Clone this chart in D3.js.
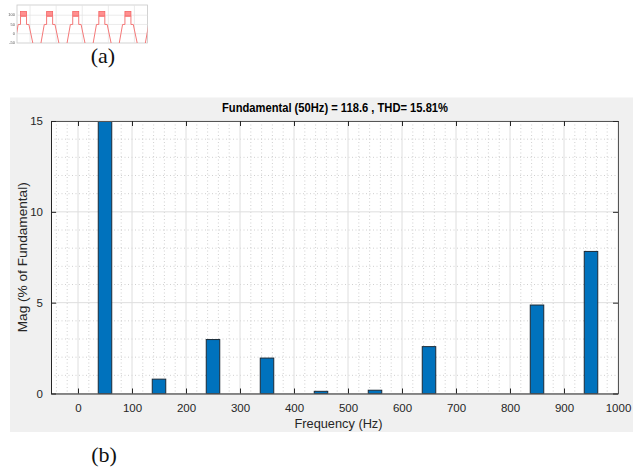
<!DOCTYPE html>
<html>
<head>
<meta charset="utf-8">
<script src="https://cdn.jsdelivr.net/npm/d3@7"></script>
<style>
  body { margin: 0; background: #fff; }
  svg { display: block; }
</style>
</head>
<body>
<svg id="chart" width="633" height="467"></svg>
<script>
// ---- Harmonic spectrum (b) ----
const harmonicFreqs = [50, 150, 250, 350, 450, 550, 650, 750, 850, 950];
const harmonicMags  = [100, 0.79, 2.97, 1.95, 0.12, 0.18, 2.58, 0, 4.87, 7.82];
const binSpacingHz = 50;          // harmonic bins every 50 Hz
const freqTicks = [0, 100, 200, 300, 400, 500, 600, 700, 800, 900, 1000];
const magTicks  = [0, 5, 10, 15];
const freqDomain = [-50, 1000];
const magDomain  = [0, 15];
const spectrumTitle = "Fundamental (50Hz) = 118.6 , THD= 15.81%";
const xAxisLabel = "Frequency (Hz)";
const yAxisLabel = "Mag (% of Fundamental)";

// ---- Output voltage waveform thumbnail (a) ----
const waveTimes  = [-3.4, 0.9, 2.7, 2.7, 7.3, 7.3, 9.1, 14.2, 16.6,
                    20.9, 22.7, 22.7, 27.3, 27.3, 29.1, 34.2, 36.6,
                    40.9, 42.7, 42.7, 47.3, 47.3, 49.1, 54.2, 56.6,
                    60.9, 62.7, 62.7, 67.3, 67.3, 69.1, 74.2, 76.6,
                    80.9, 82.7, 82.7, 87.3, 87.3, 89.1, 94.2, 96.6,
                    100.9];
const waveValues = [-120, 50, 50, 95, 95, 50, 50, -120, -120,
                    50, 50, 95, 95, 50, 50, -120, -120,
                    50, 50, 95, 95, 50, 50, -120, -120,
                    50, 50, 95, 95, 50, 50, -120, -120,
                    50, 50, 95, 95, 50, 50, -120, -120,
                    50];
const rippleStarts = [2.7, 22.7, 42.7, 62.7, 82.7];
const rippleEnds   = [7.3, 27.3, 47.3, 67.3, 87.3];
const rippleLow = 95, rippleHigh = 120;
const waveTimeGrid = [10, 30, 50, 70, 90];
const waveValueTicks = [-50, 0, 50, 100];

const svg = d3.select("#chart");
const sans = "'Liberation Sans', Arial, sans-serif";
const serif = "'Liberation Serif', 'Times New Roman', serif";

// ================= thumbnail =================
const tb = { left: 17, right: 147.5, top: 5, bottom: 43 };
const tx = d3.scaleLinear().domain([0, 100]).range([tb.left, tb.right]);
const ty = d3.scaleLinear().domain([-50, 155]).range([tb.bottom, tb.top]);

const defs = svg.append("defs");
defs.append("clipPath").attr("id", "thumbClip")
  .append("rect").attr("x", tb.left).attr("y", tb.top)
  .attr("width", tb.right - tb.left).attr("height", tb.bottom - tb.top);
defs.append("filter").attr("id", "soft")
  .append("feGaussianBlur").attr("stdDeviation", 0.35);

const thumb = svg.append("g").attr("filter", "url(#soft)");
thumb.append("rect")
  .attr("x", tb.left).attr("y", tb.top)
  .attr("width", tb.right - tb.left).attr("height", tb.bottom - tb.top)
  .attr("fill", "#fff").attr("stroke", "#c8c8c8").attr("stroke-width", 0.8);
thumb.selectAll(".tvg").data(waveTimeGrid).join("line")
  .attr("x1", d => tx(d)).attr("x2", d => tx(d))
  .attr("y1", tb.top).attr("y2", tb.bottom)
  .attr("stroke", "#e2e2e2").attr("stroke-width", 0.7);
thumb.selectAll(".thg").data(waveValueTicks.filter(v => v > -50)).join("line")
  .attr("x1", tb.left).attr("x2", tb.right)
  .attr("y1", d => ty(d)).attr("y2", d => ty(d))
  .attr("stroke", "#e2e2e2").attr("stroke-width", 0.7);
thumb.selectAll(".tl").data(waveValueTicks).join("text")
  .attr("x", tb.left - 2).attr("y", d => ty(d) + 1.3)
  .attr("text-anchor", "end").attr("font-family", sans)
  .attr("font-size", 4).attr("fill", "#555")
  .text(d => d);

const wave = thumb.append("g").attr("clip-path", "url(#thumbClip)");
wave.selectAll(".rip").data(rippleStarts).join("rect")
  .attr("x", (d) => tx(d))
  .attr("width", (d, i) => tx(rippleEnds[i]) - tx(d))
  .attr("y", ty(rippleHigh))
  .attr("height", ty(rippleLow) - ty(rippleHigh))
  .attr("fill", "#ff8f8f").attr("stroke", "#f46464").attr("stroke-width", 0.8);
wave.append("path")
  .datum(waveTimes.map((t, i) => [t, waveValues[i]]))
  .attr("fill", "none").attr("stroke", "#f47878").attr("stroke-width", 1)
  .attr("d", d3.line().x(d => tx(d[0])).y(d => ty(d[1])));

svg.append("text").attr("x", 103).attr("y", 63)
  .attr("text-anchor", "middle").attr("font-family", serif)
  .attr("font-size", 22).attr("fill", "#111").text("(a)");

// ================= spectrum =================
svg.append("rect").attr("x", 10).attr("y", 97.5)
  .attr("width", 623).attr("height", 334.5).attr("fill", "#f0f0f0");

const pb = { left: 51, right: 618, top: 121, bottom: 393.5 };
const x = d3.scaleLinear().domain(freqDomain).range([pb.left, pb.right]);
const y = d3.scaleLinear().domain(magDomain).range([pb.bottom, pb.top]);

svg.append("rect").attr("x", pb.left).attr("y", pb.top)
  .attr("width", pb.right - pb.left).attr("height", pb.bottom - pb.top)
  .attr("fill", "#fff");

// minor grid (dotted)
const minorX = d3.range(-40, 1001, 20).filter(v => v % 100 !== 0);
const minorY = d3.range(1, 15, 1).filter(v => v % 5 !== 0);
const grid = svg.append("g");
grid.selectAll(".mx").data(minorX).join("line")
  .attr("x1", d => x(d)).attr("x2", d => x(d))
  .attr("y1", pb.top).attr("y2", pb.bottom)
  .attr("stroke", "#c4c4c4").attr("stroke-width", 0.8)
  .attr("stroke-dasharray", "1,2.5");
grid.selectAll(".my").data(minorY).join("line")
  .attr("x1", pb.left).attr("x2", pb.right)
  .attr("y1", d => y(d)).attr("y2", d => y(d))
  .attr("stroke", "#c4c4c4").attr("stroke-width", 0.8)
  .attr("stroke-dasharray", "1,2.5");
// major grid
grid.selectAll(".Mx").data(freqTicks).join("line")
  .attr("x1", d => x(d)).attr("x2", d => x(d))
  .attr("y1", pb.top).attr("y2", pb.bottom)
  .attr("stroke", "#dedede").attr("stroke-width", 1);
grid.selectAll(".My").data(magTicks).join("line")
  .attr("x1", pb.left).attr("x2", pb.right)
  .attr("y1", d => y(d)).attr("y2", d => y(d))
  .attr("stroke", "#dedede").attr("stroke-width", 1);

// bars (clipped to the axes)
defs.append("clipPath").attr("id", "plotClip")
  .append("rect").attr("x", pb.left).attr("y", pb.top)
  .attr("width", pb.right - pb.left).attr("height", pb.bottom - pb.top);
const barW = x(binSpacingHz * 0.5) - x(0);
svg.append("g").attr("clip-path", "url(#plotClip)")
  .selectAll("rect").data(harmonicFreqs).join("rect")
  .attr("x", d => x(d) - barW / 2)
  .attr("width", barW)
  .attr("y", (d, i) => y(harmonicMags[i]))
  .attr("height", (d, i) => y(0) - y(harmonicMags[i]))
  .attr("fill", "#0072bd")
  .attr("stroke", "#1c2a36").attr("stroke-width", 1)
  .attr("display", (d, i) => harmonicMags[i] > 0 ? null : "none");

// axes: ticks inside on all four sides
const axisColor = "#262626";
const tickLen = 5;
const fmt = d3.format("d");
const axisBottom = svg.append("g").attr("transform", `translate(0,${pb.bottom})`)
  .call(d3.axisBottom(x).tickValues(freqTicks).tickFormat(fmt)
    .tickSizeInner(-tickLen).tickSizeOuter(0).tickPadding(10));
const axisTop = svg.append("g").attr("transform", `translate(0,${pb.top})`)
  .call(d3.axisTop(x).tickValues(freqTicks).tickSizeInner(-tickLen).tickSizeOuter(0).tickFormat(""));
const axisLeft = svg.append("g").attr("transform", `translate(${pb.left},0)`)
  .call(d3.axisLeft(y).tickValues(magTicks).tickFormat(fmt)
    .tickSizeInner(-tickLen).tickSizeOuter(0).tickPadding(8));
const axisRight = svg.append("g").attr("transform", `translate(${pb.right},0)`)
  .call(d3.axisRight(y).tickValues(magTicks).tickSizeInner(-tickLen).tickSizeOuter(0).tickFormat(""));
[axisBottom, axisTop, axisLeft, axisRight].forEach(g => {
  g.select(".domain").attr("stroke", axisColor).attr("stroke-width", 1);
  g.selectAll(".tick line").attr("stroke", axisColor);
  g.selectAll(".tick text").attr("fill", axisColor)
    .attr("font-family", sans).attr("font-size", 11.5);
});
axisTop.select(".domain").attr("stroke", "#555");
axisRight.select(".domain").attr("stroke", "#555");

// labels
svg.append("text").attr("x", 335).attr("y", 112)
  .attr("text-anchor", "middle").attr("font-family", sans)
  .attr("font-weight", "bold").attr("font-size", 12.5).attr("fill", "#000")
  .attr("textLength", 226).attr("lengthAdjust", "spacingAndGlyphs")
  .text(spectrumTitle);
svg.append("text").attr("x", (pb.left + pb.right) / 2 + 4).attr("y", 428)
  .attr("text-anchor", "middle").attr("font-family", sans)
  .attr("font-size", 12.5).attr("fill", axisColor)
  .attr("textLength", 88).attr("lengthAdjust", "spacingAndGlyphs")
  .text(xAxisLabel);
svg.append("text")
  .attr("transform", `translate(27,${(pb.top + pb.bottom) / 2}) rotate(-90)`)
  .attr("text-anchor", "middle").attr("font-family", sans)
  .attr("font-size", 12.5).attr("fill", axisColor)
  .attr("textLength", 150).attr("lengthAdjust", "spacingAndGlyphs")
  .text(yAxisLabel);

svg.append("text").attr("x", 104).attr("y", 462)
  .attr("text-anchor", "middle").attr("font-family", serif)
  .attr("font-size", 22).attr("fill", "#111").text("(b)");
</script>
</body>
</html>
